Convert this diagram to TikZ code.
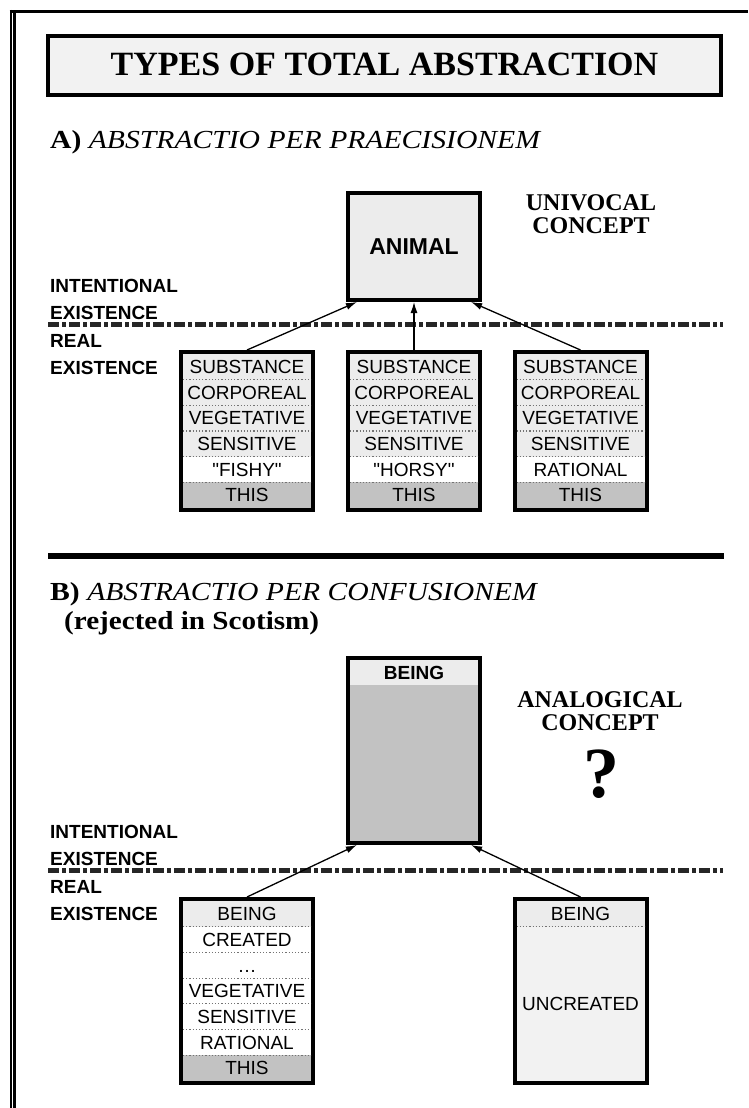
\documentclass[tikz,border=0pt]{standalone}
\usepackage{fontspec}
\setmainfont{Liberation Serif}
\setsansfont{Liberation Sans}
\usetikzlibrary{calc,arrows.meta}

\definecolor{rowgray}{gray}{0.925}
\definecolor{thisgray}{gray}{0.76}
\definecolor{palegray}{gray}{0.95}

\tikzset{
  thickbox/.style={draw=black, line width=4pt, inner sep=0pt},
  rowtext/.style={font=\sffamily\fontsize{19}{19}\selectfont, anchor=base, inner sep=0pt},
  sidetext/.style={font=\sffamily\bfseries\fontsize{19}{19}\selectfont, anchor=base west, inner sep=0pt},
  headtext/.style={font=\fontsize{26}{26}\selectfont, anchor=base west, inner sep=0pt},
  concept/.style={font=\bfseries\fontsize{24}{23}\selectfont, align=center, inner sep=0pt},
  sepline/.style={draw=black!55, line width=1.2pt, dotted},
  realline/.style={line width=4.5pt, black!85, dash pattern=on 11pt off 3pt on 4pt off 3pt},
  upto/.style={-{Latex[length=11pt,width=7pt]}, line width=1.3pt},
}

\begin{document}
\begin{tikzpicture}[x=1pt,y=-1pt]
\useasboundingbox (0,0) rectangle (748,1108);

% page frame
\draw[line width=3.3pt] (9.5,11.7) -- (748,11.7);
\draw[line width=1.8pt] (11,10) -- (11,1108);
\draw[line width=2.4pt] (14.3,13.3) -- (14.3,1108);

% title
\node[thickbox, fill=palegray, minimum width=673pt, minimum height=59pt] (title) at (384.5,65.5) {};
\node[font=\bfseries\fontsize{34}{34}\selectfont, anchor=base, inner sep=0pt] (titletext) at (384.5,76) {TYPES OF TOTAL ABSTRACTION};

%%% A) per praecisionem
\node[headtext] (headA) at (50,148) {\scalebox{1.14}[1]{\textbf{A)} \textit{ABSTRACTIO PER PRAECISIONEM}}};

\node[thickbox, fill=rowgray, minimum width=132pt, minimum height=107pt,
      font=\sffamily\bfseries\fontsize{23}{23}\selectfont] (animal) at (414,246.5) {ANIMAL};
\node[concept] (univocal) at (591,214) {UNIVOCAL\\CONCEPT};

\node[sidetext] (intA) at (50,292) {INTENTIONAL};
\node[sidetext] (intexA) at (50,319) {EXISTENCE};
\node[sidetext] (realA) at (50,347) {REAL};
\node[sidetext] (realexA) at (50,374) {EXISTENCE};
\draw[realline] (48,324.5) -- (723,324.5);

\foreach \cx/\fifth/\nm in {247/{\textquotedbl FISHY\textquotedbl}/fishy, 414/{\textquotedbl HORSY\textquotedbl}/horsy, 580.5/RATIONAL/rational} {
  \node[thickbox, minimum width=132pt, minimum height=158pt] (\nm) at (\cx,431) {};
  \foreach \lbl/\clr [count=\rw from 0] in {SUBSTANCE/rowgray, CORPOREAL/rowgray, VEGETATIVE/rowgray,
      SENSITIVE/rowgray, \fifth/white, THIS/thisgray} {
    \fill[\clr] ({\cx-64},{354+\rw*25.67}) rectangle ++(128,25.67);
    \node[rowtext] (\nm-\rw) at (\cx,{354+(\rw+0.5)*25.67+6.8}) {\lbl};
  }
  \foreach \rw in {1,...,5}
    \draw[sepline] ({\cx-64},{354+\rw*25.67}) -- ++(128,0);
}

\draw[upto] (fishy.north) -- ($(animal.south west)!0.08!(animal.south east)$);
\draw[upto] (horsy.north) -- (animal.south);
\draw[upto] (rational.north) -- ($(animal.south west)!0.92!(animal.south east)$);

\draw[line width=6pt] (48,556) -- (724,556);

%%% B) per confusionem
\node[headtext] (headB) at (50,600) {\scalebox{1.14}[1]{\textbf{B)} \textit{ABSTRACTIO PER CONFUSIONEM}}};
\node[headtext, font=\bfseries\fontsize{26}{26}\selectfont] (rejected) at (64,629) {\scalebox{1.12}[1]{(rejected in Scotism)}};

\node[thickbox, fill=thisgray, minimum width=132pt, minimum height=185pt] (being) at (414,750.5) {};
\fill[rowgray] (350,660) rectangle (478,685);
\node[rowtext, font=\sffamily\bfseries\fontsize{19}{19}\selectfont] (beingtext) at (414,679.5) {BEING};

\node[concept] (analogical) at (600,711) {ANALOGICAL\\CONCEPT};
\node[font=\bfseries\fontsize{72}{72}\selectfont, anchor=base, inner sep=0pt] (query) at (601,797) {?};

\node[sidetext] (intB) at (50,838) {INTENTIONAL};
\node[sidetext] (intexB) at (50,865) {EXISTENCE};
\node[sidetext] (realB) at (50,893) {REAL};
\node[sidetext] (realexB) at (50,920) {EXISTENCE};
\draw[realline] (48,870.5) -- (723,870.5);

% created being
\node[thickbox, minimum width=132pt, minimum height=184pt] (created) at (247,991) {};
\foreach \lbl/\clr [count=\rw from 0] in {BEING/rowgray, CREATED/white, \ldots/white, VEGETATIVE/white,
    SENSITIVE/white, RATIONAL/white, THIS/thisgray} {
  \fill[\clr] (183,{901+\rw*25.71}) rectangle ++(128,25.71);
  \node[rowtext] (created-\rw) at (247,{901+(\rw+0.5)*25.71+6.8}) {\lbl};
}
\foreach \rw in {1,...,6}
  \draw[sepline] (183,{901+\rw*25.71}) -- ++(128,0);

% uncreated being
\node[thickbox, fill=palegray, minimum width=132pt, minimum height=184pt] (uncreated) at (580.5,991) {};
\fill[rowgray] (516.5,901) rectangle ++(128,25.71);
\draw[sepline] (516.5,926.71) -- ++(128,0);
\node[rowtext] (uncreated-0) at (580.5,920.7) {BEING};
\node[rowtext] (uncreated-1) at (580.5,1010.6) {UNCREATED};

\draw[upto] (created.north) -- ($(being.south west)!0.08!(being.south east)$);
\draw[upto] (uncreated.north) -- ($(being.south west)!0.92!(being.south east)$);

\end{tikzpicture}
\end{document}
